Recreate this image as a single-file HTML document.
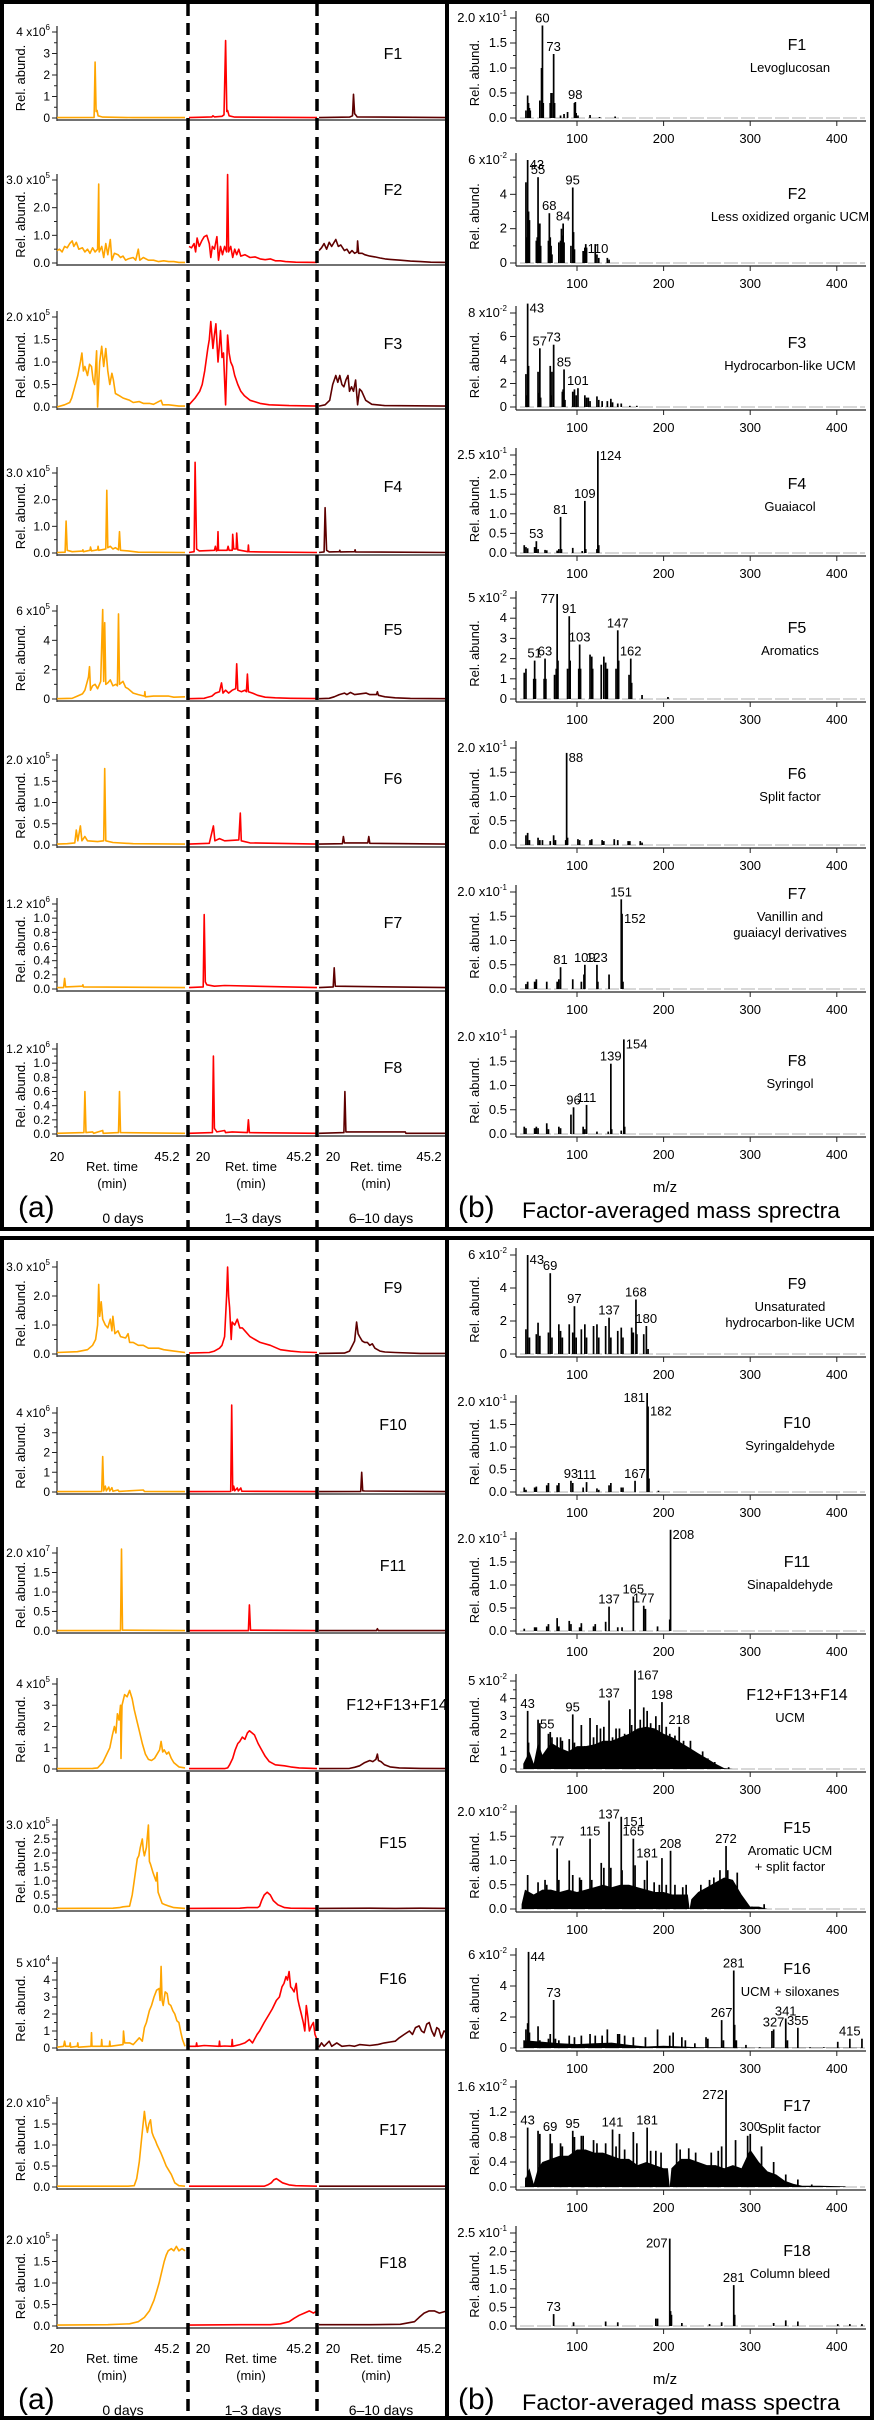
<!DOCTYPE html>
<html><head><meta charset="utf-8">
<style>
html,body{margin:0;padding:0;background:#fff;}
svg{display:block;font-family:"Liberation Sans",Arial,sans-serif;}
</style></head>
<body>
<svg id="fig" width="874" height="2421" viewBox="0 0 874 2421" xmlns="http://www.w3.org/2000/svg">
<rect x="0" y="0" width="874" height="2421" fill="#fff"/>
</svg>
<script>
// ---------- chromatogram data: [retention time (min), abundance in axis units] ----------
const c1a=[[20,0.02],[27.3,0.03],[27.5,2.6],[27.7,0.3],[27.9,0.35],[28.1,0.1],[29,0.04],[35,0.02],[45.2,0.02]];
const c1b=[[20,0.02],[24.5,0.05],[24.7,0.1],[25,0.05],[26.5,0.08],[26.9,0.15],[27.2,3.6],[27.45,0.3],[27.6,0.35],[27.9,0.1],[29,0.04],[45.2,0.02]];
const c1c=[[20,0.02],[26,0.04],[26.6,0.1],[26.8,1.1],[27,0.2],[27.2,0.15],[27.5,0.05],[45.2,0.02]];
const c2a=[[20,0.45],[20.5,0.5],[21,0.4],[21.5,0.6],[22,0.55],[22.5,0.7],[23,0.8],[23.3,0.6],[23.8,0.75],[24.3,0.5],[25,0.55],[25.5,0.4],[26,0.5],[26.5,0.35],[27,0.55],[27.5,0.4],[28,0.5],[28.2,2.85],[28.3,0.4],[28.8,0.6],[29.2,0.2],[29.6,0.7],[30,0.3],[30.5,0.85],[30.8,0.1],[31.3,0.35],[32,0.3],[32.5,0.2],[33,0.25],[33.5,0.1],[34,0.15],[35,0.2],[35.5,0.1],[36,0.5],[36.3,0.1],[37,0.2],[38,0.1],[39,0.1],[40,0.05],[41,0.08],[42,0.05],[43,0.05],[44,0.02],[45.2,0.02]];
const c2b=[[20,0.6],[20.5,0.55],[21,0.7],[21.3,0.4],[21.6,0.9],[22,0.6],[22.5,0.8],[23,0.95],[23.5,1.0],[24,0.7],[24.3,0.2],[24.6,0.6],[25,0.5],[25.5,0.95],[25.8,0.1],[26.2,0.6],[26.6,0.3],[27,0.6],[27.4,0.4],[27.6,3.2],[27.8,0.4],[28.2,0.6],[28.6,0.2],[29,0.5],[29.4,0.3],[29.8,0.5],[30.2,0.25],[31,0.3],[32,0.2],[33,0.22],[34,0.15],[35,0.12],[36,0.15],[37,0.08],[38,0.08],[39,0.05],[41,0.03],[45.2,0.02]];
const c2c=[[20,0.45],[20.5,0.55],[21,0.7],[21.5,0.5],[22,0.75],[22.5,0.6],[23.3,0.85],[23.8,0.6],[24.3,0.65],[25,0.45],[25.5,0.5],[26,0.35],[26.5,0.45],[27,0.35],[27.5,0.4],[27.6,0.8],[27.8,0.35],[28.5,0.35],[29,0.3],[30,0.25],[31,0.22],[32,0.18],[33,0.15],[34,0.13],[36,0.1],[38,0.07],[40,0.05],[42,0.03],[45.2,0.02]];
const c3a=[[20,0.0],[21.5,0.05],[22.5,0.1],[22.9,0.2],[23.5,0.45],[24.1,0.7],[24.6,1.0],[24.9,1.2],[25.2,0.8],[25.5,0.9],[26,0.7],[26.4,0.95],[26.8,0.9],[27.1,0.6],[27.4,0.5],[27.8,1.25],[28,0.0],[28.4,1.0],[28.8,1.35],[29.2,0.9],[29.6,1.3],[30,0.8],[30.4,0.5],[30.8,0.75],[31.1,0.6],[31.5,0.3],[32.3,0.25],[33,0.2],[34.3,0.15],[35,0.1],[36.2,0.12],[37,0.08],[38.2,0.08],[39,0.06],[40.5,0.15],[40.8,0.05],[42,0.05],[44,0.02],[45.2,0.02]];
const c3b=[[20,0.05],[21.2,0.2],[22.1,0.35],[22.6,0.5],[23.1,0.8],[23.7,1.3],[24.0,1.5],[24.3,1.9],[24.7,1.3],[25.0,1.6],[25.3,1.85],[25.7,1.0],[26.0,1.4],[26.2,1.7],[26.5,1.1],[26.8,1.2],[27.2,0.05],[27.6,1.6],[27.9,1.2],[28.2,1.0],[28.6,0.9],[29,0.7],[29.6,0.5],[30.2,0.35],[30.9,0.25],[32,0.15],[32.9,0.12],[34,0.08],[35.8,0.05],[39.7,0.03],[45.2,0.02]];
const c3c=[[20,0.02],[21.2,0.05],[22.1,0.15],[22.7,0.5],[23.3,0.7],[23.7,0.55],[24.1,0.7],[24.5,0.5],[24.9,0.45],[25.3,0.6],[25.7,0.7],[26.0,0.35],[26.4,0.45],[26.8,0.35],[27.2,0.6],[27.6,0.05],[28.0,0.4],[28.4,0.35],[29.2,0.15],[30.4,0.06],[32.9,0.03],[45.2,0.02]];
const c4a=[[20,0.02],[21.6,0.03],[21.8,1.2],[22.0,0.1],[23,0.05],[25,0.07],[25.1,0.12],[25.2,0.05],[26.5,0.1],[26.6,0.22],[26.8,0.08],[28,0.12],[28.1,0.25],[28.2,0.1],[29.6,0.15],[29.8,2.35],[30.0,0.2],[30.5,0.25],[31,0.15],[31.5,0.2],[32.1,0.12],[32.3,0.8],[32.5,0.1],[34,0.08],[36,0.03],[45.2,0.02]];
const c4b=[[20,0.02],[21.0,0.05],[21.2,3.4],[21.5,0.15],[22,0.08],[25,0.1],[25.2,0.25],[25.4,0.08],[25.6,0.1],[25.7,0.8],[25.8,0.1],[27.5,0.1],[27.7,0.25],[27.9,0.1],[28.5,0.1],[28.6,0.7],[28.8,0.15],[29.3,0.15],[29.4,0.75],[29.6,0.12],[31.6,0.05],[31.7,0.3],[31.8,0.05],[34,0.04],[45.2,0.02]];
const c4c=[[20,0.02],[21.0,0.04],[21.2,1.7],[21.5,0.1],[22,0.04],[24,0.05],[24.1,0.1],[24.2,0.04],[27,0.05],[27.1,0.12],[27.2,0.04],[45.2,0.02]];
const c5a=[[20,0.02],[23,0.05],[24,0.2],[25,0.35],[25.5,0.6],[26.2,1.5],[26.4,2.2],[26.6,0.6],[27,0.9],[27.5,1.0],[28,0.7],[28.6,1.2],[29.0,6.1],[29.2,1.2],[29.4,5.2],[29.6,1.0],[30,1.1],[30.5,1.3],[31,0.9],[31.6,1.0],[31.9,0.9],[32.1,5.8],[32.3,1.0],[33,1.2],[33.5,0.8],[34,0.7],[35,0.4],[36,0.3],[37.2,0.2],[37.3,0.5],[37.4,0.15],[39,0.2],[40.5,0.2],[42,0.2],[43,0.12],[45.2,0.15]];
const c5b=[[20,0.02],[23,0.05],[23.5,0.1],[24.5,0.2],[25.2,0.4],[26,0.5],[26.4,1.1],[26.7,0.4],[27.2,0.6],[27.8,0.4],[28.5,0.6],[29.2,0.7],[29.4,2.4],[29.6,0.6],[30.3,0.5],[31,0.6],[31.3,0.5],[31.5,1.7],[31.7,0.5],[32.5,0.4],[33.5,0.25],[35,0.12],[37,0.08],[40,0.05],[45.2,0.03]];
const c5c=[[20,0.02],[22,0.05],[23,0.15],[24,0.3],[25,0.4],[25.5,0.3],[26.2,0.45],[27,0.3],[28,0.35],[29.3,0.4],[30,0.3],[31.3,0.3],[31.5,0.5],[31.7,0.25],[33,0.15],[35,0.08],[38,0.04],[45.2,0.02]];
const c6a=[[20,0.02],[22,0.03],[23.5,0.05],[23.8,0.35],[24.1,0.1],[24.6,0.45],[24.9,0.1],[25.5,0.2],[26,0.1],[28,0.08],[29.2,0.1],[29.4,1.8],[29.6,0.1],[31,0.06],[35,0.03],[45.2,0.02]];
const c6b=[[20,0.02],[24,0.04],[24.5,0.3],[24.8,0.45],[25.1,0.1],[26,0.15],[27,0.1],[29.8,0.12],[30.1,0.75],[30.3,0.1],[32,0.05],[45.2,0.02]];
const c6c=[[20,0.02],[24.6,0.03],[24.8,0.2],[25,0.05],[29.6,0.05],[29.8,0.2],[30,0.04],[45.2,0.02]];
const c7a=[[20,0.02],[21.3,0.02],[21.5,0.15],[21.7,0.03],[25,0.04],[25.1,0.06],[25.2,0.03],[45.2,0.02]];
const c7b=[[20,0.02],[22.8,0.03],[23.0,1.05],[23.2,0.1],[23.5,0.06],[25,0.04],[27,0.05],[45.2,0.02]];
const c7c=[[20,0.02],[22.8,0.03],[23.0,0.3],[23.2,0.04],[45.2,0.02]];
const c8a=[[20,0.01],[25.3,0.02],[25.5,0.6],[25.7,0.02],[27,0.03],[27.2,0.01],[29,0.05],[29.1,0.01],[32.1,0.02],[32.3,0.6],[32.5,0.02],[45.2,0.01]];
const c8b=[[20,0.01],[24.6,0.02],[24.8,1.1],[25,0.08],[25.5,0.03],[27,0.05],[27.2,0.02],[28.5,0.03],[31.5,0.02],[31.7,0.2],[31.9,0.02],[45.2,0.01]];
const c8c=[[20,0.01],[24.9,0.02],[25.1,0.6],[25.3,0.03],[37,0.03],[37.1,0.01],[45.2,0.01]];
const c9a=[[20,0.05],[24,0.08],[26,0.15],[27,0.3],[27.6,0.5],[28.0,1.0],[28.2,2.4],[28.4,1.3],[28.7,1.8],[29,1.2],[29.5,1.0],[30,0.9],[30.5,1.2],[30.8,0.8],[31,1.3],[31.4,0.7],[32,0.8],[32.5,0.6],[33.5,0.55],[34,0.7],[34.3,0.4],[35,0.4],[36,0.3],[37,0.3],[38,0.2],[40,0.2],[41,0.15],[43,0.1],[45.2,0.05]];
const c9b=[[20,0.03],[24,0.05],[25,0.1],[26,0.2],[26.5,0.3],[27.0,0.6],[27.4,2.0],[27.6,3.0],[27.8,2.0],[28.0,1.6],[28.3,0.5],[28.5,1.1],[29,1.0],[29.5,1.2],[30,0.9],[30.5,0.9],[31,0.8],[32,0.6],[33,0.5],[34,0.4],[36,0.3],[38,0.15],[40,0.1],[42,0.07],[45.2,0.05]];
const c9c=[[20,0.02],[25,0.03],[26,0.1],[26.6,0.3],[27.0,0.45],[27.4,1.1],[27.7,0.7],[28,0.6],[28.5,0.45],[29,0.4],[29.5,0.4],[30,0.3],[30.5,0.35],[31,0.2],[32,0.1],[33,0.07],[35,0.05],[40,0.02],[45.2,0.02]];
const c10a=[[20,0.02],[28.8,0.03],[29.0,1.8],[29.2,0.05],[29.5,0.3],[29.7,0.05],[30.2,0.25],[30.4,0.05],[30.8,0.22],[31,0.04],[32,0.1],[32.2,0.03],[37,0.1],[37.2,0.03],[45.2,0.02]];
const c10b=[[20,0.02],[28.2,0.03],[28.4,4.4],[28.6,0.08],[28.8,0.3],[29,0.06],[29.5,0.2],[29.7,0.05],[30.2,0.2],[30.4,0.04],[45.2,0.02]];
const c10c=[[20,0.02],[28.2,0.03],[28.4,1.0],[28.6,0.06],[29,0.05],[45.2,0.02]];
const c11a=[[20,0.01],[32.5,0.01],[32.7,2.1],[32.9,0.02],[45.2,0.01]];
const c11b=[[20,0.01],[31.7,0.01],[31.9,0.67],[32.1,0.02],[45.2,0.01]];
const c11c=[[20,0.01],[31.3,0.01],[31.5,0.06],[31.7,0.01],[45.2,0.01]];
const c12a=[[20,0.02],[27,0.03],[28.0,0.05],[29,0.3],[30.4,1.0],[30.9,1.6],[31.3,2.0],[31.6,1.7],[31.9,2.6],[32.2,2.3],[32.5,3.0],[32.6,0.5],[32.8,3.0],[33.3,3.5],[33.8,3.4],[34.3,3.7],[34.8,3.3],[35.2,2.8],[35.7,2.3],[36.2,1.8],[36.8,1.2],[37.4,0.7],[38,0.45],[38.6,0.4],[39.2,0.5],[39.7,0.7],[40.2,0.9],[40.5,1.3],[40.8,0.8],[41.1,0.9],[41.6,0.7],[42,0.8],[42.5,0.5],[43,0.3],[44,0.1],[45.2,0.05]];
const c12b=[[20,0.02],[27,0.02],[27.6,0.05],[28.0,0.2],[28.6,0.5],[29.1,0.9],[29.6,1.2],[30,1.3],[30.5,1.5],[31,1.4],[31.5,1.7],[31.9,1.8],[32.4,1.7],[32.9,1.6],[33.6,1.2],[34.3,0.9],[35,0.6],[35.8,0.35],[37,0.2],[38.8,0.15],[40,0.1],[41.7,0.05],[45.2,0.02]];
const c12c=[[20,0.02],[26,0.03],[27,0.08],[28,0.15],[29,0.3],[30,0.4],[30.6,0.35],[31.2,0.45],[31.5,0.7],[31.7,0.4],[32.2,0.35],[32.9,0.2],[34,0.1],[35.8,0.05],[40,0.03],[45.2,0.02]];
const c15a=[[20,0.02],[31,0.03],[32.3,0.05],[33,0.08],[34.3,0.1],[34.8,0.5],[35.2,1.0],[35.8,1.8],[36.1,1.9],[36.4,2.2],[36.8,2.5],[37.0,2.1],[37.2,1.9],[37.6,2.2],[38.0,3.0],[38.2,1.7],[38.4,1.6],[38.9,1.3],[39.3,1.1],[39.5,1.0],[39.7,1.3],[39.9,0.6],[40.1,0.5],[40.7,0.2],[41.3,0.15],[42.1,0.1],[43,0.05],[45.2,0.02]];
const c15b=[[20,0.02],[30,0.03],[31.5,0.05],[33.5,0.05],[33.9,0.1],[34.3,0.3],[34.8,0.5],[35.4,0.6],[36,0.5],[36.6,0.3],[37.5,0.15],[38.8,0.05],[40,0.03],[45.2,0.02]];
const c15c=[[20,0.02],[30,0.03],[35,0.02],[40,0.03],[45.2,0.02]];
const c16a=[[20,0.05],[21.3,0.1],[21.5,0.4],[21.7,0.1],[22.5,0.1],[22.6,0.3],[22.7,0.05],[24,0.1],[24.1,0.3],[24.2,0.05],[26.7,0.1],[26.8,0.9],[26.9,0.1],[28.7,0.1],[28.8,0.5],[28.9,0.1],[30.3,0.1],[30.4,0.4],[30.5,0.1],[33,0.2],[33.1,1.0],[33.3,0.3],[34.3,0.3],[35,0.2],[36.2,0.6],[36.8,0.4],[37.2,1.2],[37.6,1.5],[38.2,2.2],[38.6,2.5],[39.1,3.0],[39.6,3.4],[40.1,3.5],[40.3,2.8],[40.5,4.8],[40.7,2.8],[40.9,2.5],[41.3,3.3],[41.7,3.2],[42.0,2.6],[42.4,2.5],[42.8,2.2],[43.2,2.0],[43.6,1.6],[44,1.5],[44.4,0.9],[44.7,0.5],[45.2,0.1]];
const c16b=[[20,0.1],[21.4,0.1],[21.5,0.3],[21.6,0.1],[23,0.15],[25.9,0.1],[26,0.4],[26.1,0.1],[27,0.12],[28.4,0.1],[28.5,0.5],[28.6,0.1],[30,0.2],[31,0.3],[31.9,0.5],[32.5,0.3],[33.4,0.8],[33.9,1.0],[34.8,1.5],[35.8,2.0],[36.4,2.3],[37.2,2.8],[37.8,3.0],[38.3,3.6],[38.7,3.8],[39.1,4.2],[39.4,4.0],[39.7,4.5],[40,3.6],[40.3,3.5],[40.7,3.3],[41.1,3.8],[41.4,2.9],[41.7,2.5],[42.1,2.0],[42.5,1.5],[42.8,1.0],[43.1,2.5],[43.4,1.8],[43.7,1.0],[44.1,1.3],[44.5,1.5],[44.8,0.8],[45.2,0.5]];
const c16c=[[20,0.05],[20.5,0.3],[21,0.1],[22,0.4],[22.5,0.1],[23.5,0.3],[24.5,0.1],[26,0.15],[27,0.1],[28,0.2],[30,0.15],[31.5,0.2],[32.9,0.3],[34,0.35],[35,0.4],[35.8,0.6],[36.8,0.8],[37.8,1.0],[38.4,0.8],[39.0,1.2],[39.7,1.3],[40.2,1.0],[40.7,0.9],[41.2,1.4],[41.7,1.5],[42.2,1.0],[42.7,0.7],[43.2,1.2],[43.6,1.1],[44.1,0.6],[44.6,1.0],[45.2,0.9]];
const c17a=[[20,0.02],[34,0.02],[35.2,0.03],[35.7,0.2],[36.2,0.6],[36.7,1.2],[37.2,1.8],[37.5,1.5],[37.8,1.3],[38.1,1.5],[38.4,1.6],[38.7,1.3],[39,1.2],[39.4,1.1],[39.7,1.0],[40.1,0.9],[40.5,0.8],[41,0.65],[41.5,0.5],[42,0.4],[42.5,0.3],[43.2,0.1],[44,0.03],[45.2,0.02]];
const c17b=[[20,0.02],[34,0.02],[34.8,0.02],[35.5,0.05],[36.2,0.1],[36.7,0.17],[37.2,0.2],[37.8,0.15],[38.4,0.1],[39.7,0.05],[41,0.03],[45.2,0.02]];
const c17c=[[20,0.02],[30,0.02],[40,0.02],[45.2,0.02]];
const c18a=[[20,0.02],[30,0.03],[34.3,0.05],[36,0.1],[37.2,0.2],[38.2,0.35],[39.1,0.6],[39.6,0.8],[40.1,1.0],[40.6,1.25],[41.1,1.5],[41.5,1.65],[41.9,1.75],[42.5,1.8],[43.0,1.75],[43.5,1.85],[44,1.75],[44.6,1.8],[45.2,1.75]];
const c18b=[[20,0.02],[30,0.03],[36,0.03],[38,0.05],[39.7,0.1],[40.7,0.18],[41.7,0.25],[42.7,0.3],[43.7,0.35],[44.5,0.3],[45.2,0.35]];
const c18c=[[20,0.03],[30,0.03],[36,0.04],[38.8,0.1],[39.7,0.2],[40.7,0.3],[41.7,0.35],[42.7,0.35],[43.7,0.3],[45.2,0.35]];

// ---------- mass spectra data: [m/z, abundance in axis units] ----------
const s1=[[41,0.15],[43,0.45],[44,0.3],[45,0.2],[46,0.15],[57,0.35],[59,1.0],[60,1.85],[61,0.3],[69,0.3],[70,0.5],[71,0.5],[73,1.28],[74,0.3],[81,0.05],[85,0.08],[89,0.12],[97,0.3],[98,0.32],[99,0.1],[101,0.05],[115,0.06],[126,0.02],[144,0.03]];
const s2=[[41,4.7],[42,1.5],[43,6.0],[44,3.0],[45,2.5],[53,1.3],[54,1.5],[55,5.0],[56,2.3],[57,2.3],[58,1.0],[67,1.3],[68,2.9],[69,1.5],[70,1.0],[71,0.5],[79,1.2],[81,1.3],[82,2.0],[83,1.6],[84,2.3],[85,1.2],[93,1.0],[95,4.4],[96,1.8],[97,0.8],[107,0.7],[109,0.9],[110,1.1],[111,0.9],[121,1.1],[123,0.5],[125,0.3],[135,0.3],[137,0.2]];
const s3=[[41,2.8],[42,1.0],[43,8.8],[44,3.5],[55,3.0],[56,1.2],[57,5.0],[58,0.8],[69,3.5],[70,1.0],[71,3.0],[73,5.3],[83,1.3],[84,1.5],[85,3.2],[86,0.6],[95,1.3],[97,1.5],[99,1.0],[101,1.6],[109,1.0],[111,0.8],[113,0.8],[115,0.5],[123,0.9],[125,0.6],[129,0.5],[135,0.5],[139,0.7],[141,0.4],[147,0.3],[151,0.3],[161,0.1],[169,0.1]];
const s4=[[39,0.2],[41,0.15],[43,0.12],[51,0.15],[53,0.3],[55,0.1],[63,0.08],[65,0.07],[77,0.06],[79,0.1],[81,0.92],[82,0.1],[95,0.13],[106,0.05],[109,1.33],[110,0.1],[123,0.1],[124,2.6],[125,0.2]];
const s5=[[39,1.3],[41,1.5],[50,1.0],[51,1.9],[52,1.0],[62,1.0],[63,2.0],[64,1.0],[74,1.2],[76,1.5],[77,5.2],[78,1.9],[89,1.5],[91,4.1],[92,1.9],[102,1.5],[103,2.7],[104,1.5],[115,2.2],[117,2.1],[118,1.5],[128,1.7],[131,2.1],[133,1.8],[135,1.5],[145,1.5],[147,3.4],[148,1.9],[160,1.2],[162,2.0],[163,0.8],[175,0.2],[205,0.1]];
const s6=[[41,0.2],[43,0.25],[45,0.1],[55,0.15],[57,0.1],[60,0.1],[69,0.08],[73,0.2],[75,0.1],[87,0.1],[88,1.9],[89,0.15],[101,0.12],[103,0.1],[115,0.1],[117,0.12],[129,0.1],[131,0.08],[143,0.12],[147,0.1],[159,0.08],[161,0.08],[173,0.08],[175,0.05]];
const s7=[[41,0.1],[43,0.15],[51,0.15],[53,0.2],[65,0.15],[77,0.15],[79,0.2],[81,0.45],[95,0.2],[105,0.15],[108,0.3],[109,0.5],[123,0.5],[124,0.15],[137,0.3],[151,1.85],[152,1.55],[153,0.15]];
const s8=[[39,0.15],[41,0.12],[51,0.12],[53,0.15],[55,0.12],[65,0.22],[67,0.1],[79,0.15],[81,0.12],[93,0.4],[96,0.55],[107,0.15],[109,0.1],[111,0.6],[123,0.05],[136,0.05],[139,1.45],[140,0.1],[151,0.07],[154,1.95],[155,0.15]];
const s9=[[41,1.5],[43,6.0],[45,1.0],[53,1.2],[55,1.9],[57,1.1],[67,1.3],[69,4.9],[71,1.0],[79,1.8],[81,1.4],[83,1.0],[91,1.8],[95,1.3],[97,2.9],[99,1.0],[105,1.5],[109,1.8],[111,1.0],[119,1.7],[123,1.8],[125,1.0],[133,1.7],[137,2.2],[139,1.0],[147,1.4],[151,1.6],[153,1.0],[163,1.6],[165,1.3],[168,3.3],[169,1.2],[177,1.2],[180,1.7],[182,0.3]];
const s10=[[39,0.1],[41,0.05],[51,0.1],[53,0.12],[65,0.15],[67,0.2],[77,0.15],[79,0.2],[93,0.25],[95,0.2],[107,0.1],[111,0.22],[123,0.08],[125,0.05],[137,0.15],[139,0.2],[151,0.1],[153,0.1],[167,0.25],[181,2.2],[182,1.9],[183,0.3],[194,0.03]];
const s11=[[39,0.05],[51,0.08],[53,0.08],[65,0.1],[67,0.15],[77,0.28],[79,0.1],[91,0.22],[93,0.15],[103,0.08],[105,0.17],[119,0.1],[121,0.15],[133,0.2],[137,0.53],[147,0.08],[152,0.08],[165,0.75],[177,0.55],[179,0.48],[193,0.1],[207,0.25],[208,2.2]];
const s12=[[43,3.3],[44,1.5],[55,2.8],[57,2.6],[67,2.0],[69,2.1],[71,1.8],[77,1.8],[81,1.8],[83,1.6],[91,1.7],[95,3.1],[97,1.5],[105,2.5],[109,1.3],[115,2.9],[119,1.8],[123,2.5],[127,2.3],[131,2.4],[137,3.9],[141,1.8],[145,2.3],[149,2.3],[155,2.0],[161,3.4],[163,2.5],[167,5.6],[173,2.8],[177,3.5],[181,3.3],[185,2.6],[191,3.0],[195,2.5],[198,3.8],[203,2.4],[207,2.0],[213,1.9],[218,2.4],[223,1.6],[231,1.6],[235,1.0],[245,1.0],[251,0.6],[259,0.4],[263,0.2],[275,0.1]];
const e12=[[38,0.3],[45,1.0],[50,0.3],[55,1.5],[60,0.8],[70,1.5],[80,1.2],[90,1.0],[100,1.3],[110,1.3],[120,1.4],[130,1.6],[140,1.6],[150,1.8],[160,2.0],[170,2.3],[180,2.4],[190,2.3],[200,2.0],[210,1.8],[220,1.5],[230,1.2],[240,0.9],[250,0.6],[260,0.3],[270,0.05],[280,0]];
const s15=[[43,0.7],[55,0.55],[63,0.6],[65,0.5],[77,1.25],[79,0.6],[91,1.0],[95,0.7],[103,0.65],[105,0.6],[115,1.45],[117,0.6],[128,0.95],[131,0.85],[137,1.8],[139,0.85],[151,1.9],[152,0.8],[165,1.45],[167,0.9],[178,0.6],[181,1.0],[189,0.55],[195,0.5],[198,1.05],[203,0.5],[208,1.2],[213,0.5],[222,0.45],[226,0.5],[243,0.5],[253,0.6],[258,0.65],[265,0.8],[272,1.3],[274,0.8],[285,0.75],[302,0.05],[316,0.1]];
const e15=[[36,0.1],[40,0.4],[50,0.3],[60,0.4],[70,0.4],[80,0.35],[90,0.4],[100,0.35],[110,0.4],[120,0.45],[130,0.5],[140,0.45],[150,0.5],[160,0.5],[170,0.45],[180,0.4],[190,0.35],[200,0.35],[210,0.3],[220,0.3],[228,0.3],[230,0],[232,0.2],[240,0.35],[250,0.45],[260,0.55],[270,0.65],[280,0.6],[290,0.3],[300,0.05],[310,0.05],[320,0]];
const s16=[[41,1.2],[43,1.6],[44,6.2],[45,1.0],[55,1.4],[57,0.5],[67,0.6],[69,0.9],[73,3.1],[75,0.6],[79,0.5],[91,0.8],[97,0.7],[105,0.8],[115,0.9],[121,0.8],[129,0.8],[135,1.2],[147,0.9],[149,0.9],[155,0.8],[165,0.7],[179,0.7],[193,1.2],[207,0.8],[211,1.0],[221,0.7],[225,0.5],[236,0.3],[249,0.7],[251,0.6],[267,1.8],[269,0.5],[281,5.0],[282,1.5],[284,0.5],[295,0.2],[311,0.05],[325,1.1],[327,1.2],[341,1.9],[343,0.5],[355,1.3],[369,0.05],[385,0.05],[401,0.4],[415,0.6],[429,0.6]];
const e16=[[38,0.5],[60,0.4],[80,0.3],[100,0.25],[120,0.3],[140,0.35],[160,0.2],[180,0.1],[200,0.15],[220,0.1],[240,0.05],[260,0.05],[300,0.02],[430,0.02]];
const s17=[[41,0.15],[43,0.95],[55,0.9],[57,0.85],[69,0.85],[71,0.7],[81,0.7],[83,0.65],[95,0.9],[97,0.8],[105,0.82],[107,0.82],[119,0.75],[123,0.7],[133,0.7],[141,0.92],[145,0.65],[149,0.85],[155,0.6],[165,0.88],[169,0.7],[181,0.95],[185,0.58],[191,0.58],[197,0.55],[215,0.7],[219,0.6],[229,0.62],[237,0.55],[255,0.55],[263,0.58],[267,0.65],[272,1.55],[283,0.75],[297,0.82],[300,0.85],[313,0.65],[327,0.4],[341,0.2],[355,0.12],[371,0.04]];
const e17=[[40,0.1],[45,0.3],[50,0.05],[55,0.3],[60,0.4],[70,0.45],[80,0.5],[90,0.5],[100,0.6],[110,0.6],[120,0.55],[130,0.55],[140,0.5],[150,0.45],[160,0.45],[170,0.35],[180,0.4],[190,0.35],[200,0.3],[205,0.3],[207,0],[209,0.3],[220,0.45],[230,0.45],[240,0.4],[250,0.35],[260,0.35],[270,0.3],[280,0.35],[290,0.3],[300,0.6],[310,0.4],[320,0.25],[330,0.2],[340,0.1],[350,0.05],[360,0.02],[380,0.02],[410,0.01]];
const s18=[[73,0.32],[96,0.1],[133,0.12],[147,0.1],[191,0.2],[193,0.2],[207,2.35],[208,0.4],[209,0.3],[221,0.08],[253,0.05],[267,0.1],[281,1.1],[282,0.3],[327,0.08],[341,0.15],[355,0.12],[401,0.05],[415,0.05],[429,0.05]];

// peak labels: [m/z, placement] (m=above centred, r=right of bar, l=left of bar)
const L1=[[60,'m'],[73,'m'],[98,'m']];
const L2=[[43,'r'],[55,'m'],[68,'m'],[84,'m'],[95,'m'],[110,'r']];
const L3=[[43,'r'],[57,'m'],[73,'m'],[85,'m'],[101,'m']];
const L4=[[53,'m'],[81,'m'],[109,'m'],[124,'r']];
const L5=[[51,'m'],[63,'m'],[77,'l'],[91,'m'],[103,'m'],[147,'m'],[162,'m']];
const L6=[[88,'r']];
const L7=[[81,'m'],[109,'m'],[123,'m'],[151,'m'],[152,'r']];
const L8=[[96,'m'],[111,'m'],[139,'m'],[154,'r']];
const L9=[[43,'r'],[69,'m'],[97,'m'],[137,'m'],[168,'m'],[180,'m']];
const L10=[[93,'m'],[111,'m'],[167,'m'],[181,'l'],[182,'r']];
const L11=[[137,'m'],[165,'m'],[177,'m'],[208,'r']];
const L12=[[43,'m'],[55,'r'],[95,'m'],[137,'m'],[167,'r'],[198,'m'],[218,'m']];
const L15=[[77,'m'],[115,'m'],[137,'m'],[151,'r'],[165,'m'],[181,'m'],[208,'m'],[272,'m']];
const L16=[[44,'r'],[73,'m'],[267,'m'],[281,'m'],[327,'m'],[341,'m'],[355,'m'],[415,'m']];
const L17=[[43,'m'],[69,'m'],[95,'m'],[141,'m'],[181,'m'],[272,'l'],[300,'m']];
const L18=[[73,'m'],[207,'l'],[281,'m']];

// tick label arrays
const spectraTicksX=[100,200,300,400];
const retTickLabels=['20','45.2'];
const dayLabels=['0  days','1\u20133 days','6\u201310 days'];

// ---------- layout (not data) ----------
const NS='http://www.w3.org/2000/svg';
const svg=document.getElementById('fig');
function mk(tag,attrs,parent){const e=document.createElementNS(NS,tag);for(const k in attrs)e.setAttribute(k,attrs[k]);(parent||svg).appendChild(e);return e;}
const segX0=[57,189,319], segW=128;
const segColors=['#FFA500','#FF0000','#5E0000'];
function tx(seg,t){return segX0[seg]+(t-20)/25.2*segW;}
function mzx(m){return 577+(m-100)*0.866;}

const factors=[
 {id:'F1',z:118,cH:86,cMax:4,cStep:1,cMinor:0.5,cDec:0,cExp:'6',c:[c1a,c1b,c1c],sH:100,sMax:2.0,sStep:0.5,sMinor:0.25,sDec:1,sExp:'-1',s:s1,lab:L1,sub:['Levoglucosan'],tOff:-74,lOff:-65},
 {id:'F2',z:263,cH:83,cMax:3,cStep:1,cMinor:0.5,cDec:1,cExp:'5',c:[c2a,c2b,c2c],sH:103,sMax:6,sStep:2,sMinor:1,sDec:0,sExp:'-2',s:s2,lab:L2,sub:['Less oxidized organic UCM'],tOff:-70,lOff:-74},
 {id:'F3',z:407,cH:90,cMax:2,cStep:0.5,cMinor:0.25,cDec:1,cExp:'5',c:[c3a,c3b,c3c],sH:94,sMax:8,sStep:2,sMinor:1,sDec:0,sExp:'-2',s:s3,lab:L3,sub:['Hydrocarbon-like UCM'],tOff:-65,lOff:-64},
 {id:'F4',z:553,cH:80,cMax:3,cStep:1,cMinor:0.5,cDec:1,cExp:'5',c:[c4a,c4b,c4c],sH:98,sMax:2.5,sStep:0.5,sMinor:0.25,sDec:1,sExp:'-1',s:s4,lab:L4,sub:['Guaiacol'],tOff:-70,lOff:-67},
 {id:'F5',z:699,cH:88,cMax:6,cStep:2,cMinor:1,cDec:0,cExp:'5',c:[c5a,c5b,c5c],sH:101,sMax:5,sStep:1,sMinor:0.5,sDec:0,sExp:'-2',s:s5,lab:L5,sub:['Aromatics'],tOff:-72,lOff:-70},
 {id:'F6',z:845,cH:85,cMax:2,cStep:0.5,cMinor:0.25,cDec:1,cExp:'5',c:[c6a,c6b,c6c],sH:97,sMax:2.0,sStep:0.5,sMinor:0.25,sDec:1,sExp:'-1',s:s6,lab:L6,sub:['Split factor'],tOff:-72,lOff:-67},
 {id:'F7',z:989,cH:85,cMax:1.2,cStep:0.2,cMinor:0.1,cDec:1,cExp:'6',c:[c7a,c7b,c7c],sH:97,sMax:2.0,sStep:0.5,sMinor:0.25,sDec:1,sExp:'-1',s:s7,lab:L7,sub:['Vanillin and','guaiacyl derivatives'],tOff:-96,lOff:-67},
 {id:'F8',z:1134,cH:85,cMax:1.2,cStep:0.2,cMinor:0.1,cDec:1,cExp:'6',c:[c8a,c8b,c8c],sH:97,sMax:2.0,sStep:0.5,sMinor:0.25,sDec:1,sExp:'-1',s:s8,lab:L8,sub:['Syringol'],tOff:-74,lOff:-67},
 {id:'F9',z:1354,cH:87,cMax:3,cStep:1,cMinor:0.5,cDec:1,cExp:'5',c:[c9a,c9b,c9c],sH:99,sMax:6,sStep:2,sMinor:1,sDec:0,sExp:'-2',s:s9,lab:L9,sub:['Unsaturated','hydrocarbon-like UCM'],tOff:-71,lOff:-67},
 {id:'F10',z:1492,cH:79,cMax:4,cStep:1,cMinor:0.5,cDec:0,cExp:'6',c:[c10a,c10b,c10c],sH:90,sMax:2.0,sStep:0.5,sMinor:0.25,sDec:1,sExp:'-1',s:s10,lab:L10,sub:['Syringaldehyde'],tOff:-70,lOff:-68},
 {id:'F11',z:1631,cH:78,cMax:2,cStep:0.5,cMinor:0.25,cDec:1,cExp:'7',c:[c11a,c11b,c11c],sH:92,sMax:2.0,sStep:0.5,sMinor:0.25,sDec:1,sExp:'-1',s:s11,lab:L11,sub:['Sinapaldehyde'],tOff:-70,lOff:-66},
 {id:'F12+F13+F14',z:1769,cH:85,cMax:4,cStep:1,cMinor:0.5,cDec:0,cExp:'5',c:[c12a,c12b,c12c],sH:88,sMax:5,sStep:1,sMinor:0.5,sDec:0,sExp:'-2',s:s12,e:e12,lab:L12,sub:['UCM'],tOff:-75,lOff:-65},
 {id:'F15',z:1909,cH:84,cMax:3,cStep:0.5,cMinor:0.25,cDec:1,cExp:'5',c:[c15a,c15b,c15c],sH:97,sMax:2.0,sStep:0.5,sMinor:0.25,sDec:1,sExp:'-2',s:s15,e:e15,lab:L15,sub:['Aromatic UCM','+ split factor'],tOff:-82,lOff:-67},
 {id:'F16',z:2048,cH:85,cMax:5,cStep:1,cMinor:0.5,cDec:0,cExp:'4',c:[c16a,c16b,c16c],sH:93,sMax:6,sStep:2,sMinor:1,sDec:0,sExp:'-2',s:s16,e:e16,lab:L16,sub:['UCM + siloxanes'],tOff:-80,lOff:-70},
 {id:'F17',z:2187,cH:84,cMax:2,cStep:0.5,cMinor:0.25,cDec:1,cExp:'5',c:[c17a,c17b,c17c],sH:100,sMax:1.6,sStep:0.4,sMinor:0.2,sDec:1,sExp:'-2',s:s17,e:e17,lab:L17,sub:['Split factor'],tOff:-82,lOff:-58},
 {id:'F18',z:2326,cH:86,cMax:2,cStep:0.5,cMinor:0.25,cDec:1,cExp:'5',c:[c18a,c18b,c18c],sH:93,sMax:2.5,sStep:0.5,sMinor:0.25,sDec:1,sExp:'-1',s:s18,lab:L18,sub:['Column bleed'],tOff:-76,lOff:-64}
];

function yTickLabel(x,y,val,dec,exp,isTop,fs){
  const t=mk('text',{x:x,y:y+4,'text-anchor':'end','font-size':fs,fill:'#000'});
  if(isTop){
    t.appendChild(document.createTextNode(val.toFixed(dec)+' x10'));
    const sup=mk('tspan',{dy:-6,'font-size':8},t);sup.textContent=exp;
    const pad=mk('tspan',{dy:6,'font-size':2},t);pad.textContent=' ';
  } else t.textContent=val.toFixed(dec);
  return t;
}

factors.forEach((f,fi)=>{
  const key=f.id.toLowerCase().replace(/\+/g,'-');
  const g=mk('g',{});
  
  
  const cy=v=>f.z-v/f.cMax*f.cH;
  const ya=mk('line',{x1:57,y1:f.z-f.cH-6,x2:57,y2:f.z+3,stroke:'#222','stroke-width':1.2},g);
  
  
  for(let v=0;v<=f.cMax+1e-9;v+=f.cMinor){
    const major=Math.abs(v/f.cStep-Math.round(v/f.cStep))<1e-6;
    mk('line',{x1:major?52:54,y1:cy(v),x2:57,y2:cy(v),stroke:'#222','stroke-width':1},g);
    if(major){
      const lt=yTickLabel(50,cy(v),v,f.cDec,f.cExp,Math.abs(v-f.cMax)<1e-6,12);
      g.appendChild(lt);
      
      
    }
  }
  const yt=mk('text',{x:0,y:0,transform:`translate(25,${f.z-f.cH/2+3}) rotate(-90)`,'text-anchor':'middle','font-size':13},g);
  yt.textContent='Rel. abund.';
  
  
  const xa=mk('line',{x1:57,y1:f.z+2,x2:446,y2:f.z+2,stroke:'#444','stroke-width':1.5},g);
  
  
  f.c.forEach((ser,si)=>{
    const pts=ser.map(p=>tx(si,p[0]).toFixed(1)+','+cy(p[1]).toFixed(1)).join(' ');
    const pl=mk('polyline',{points:pts,fill:'none',stroke:segColors[si],'stroke-width':1.6,'stroke-linejoin':'round'},g);
    
    
  });
  const lt=mk('text',{x:f.id.length>4?397:393,y:f.z+f.lOff+6,'text-anchor':'middle','font-size':16},g);
  lt.textContent=f.id;
  
  

  const h=mk('g',{});
  
  
  const sy=v=>f.z-v/f.sMax*f.sH;
  const sya=mk('line',{x1:516,y1:f.z-f.sH-7,x2:516,y2:f.z+3,stroke:'#222','stroke-width':1.2},h);
  
  
  for(let v=0;v<=f.sMax+1e-9;v+=f.sMinor){
    const major=Math.abs(v/f.sStep-Math.round(v/f.sStep))<1e-6;
    mk('line',{x1:major?510:513,y1:sy(v),x2:516,y2:sy(v),stroke:'#222','stroke-width':1},h);
    if(major){
      const stl=yTickLabel(507,sy(v),v,f.sDec,f.sExp,Math.abs(v-f.sMax)<1e-6,13);
      h.appendChild(stl);
      
      
    }
  }
  const syt=mk('text',{x:0,y:0,transform:`translate(479,${f.z-f.sH/2+5}) rotate(-90)`,'text-anchor':'middle','font-size':13},h);
  syt.textContent='Rel. abund.';
  
  
  const base=mk('line',{x1:520,y1:f.z,x2:865,y2:f.z,stroke:'#ccc','stroke-width':1.5,'stroke-dasharray':'14,3'},h);
  
  
  if(f.e){
    const pts=[mzx(f.e[0][0]).toFixed(1)+','+f.z].concat(f.e.map(p=>mzx(p[0]).toFixed(1)+','+sy(p[1]).toFixed(1))).concat([mzx(f.e[f.e.length-1][0]).toFixed(1)+','+f.z]).join(' ');
    const env=mk('polygon',{points:pts,fill:'#000'},h);
    
    
  }
  f.s.forEach(p=>{
    const top=sy(p[1]);
    const b=mk('rect',{x:(mzx(p[0])-0.8).toFixed(1),y:top.toFixed(1),width:1.7,height:(f.z-top).toFixed(1),fill:'#000'},h);
    
    
  });
  const sxa=mk('line',{x1:516,y1:f.z+3,x2:866,y2:f.z+3,stroke:'#222','stroke-width':1.3},h);
  
  
  spectraTicksX.forEach(m=>{
    mk('line',{x1:mzx(m),y1:f.z+3,x2:mzx(m),y2:f.z+8,stroke:'#222','stroke-width':1},h);
    const xl=mk('text',{x:mzx(m),y:f.z+25,'text-anchor':'middle','font-size':13},h);
    xl.textContent=String(m);
    
    
  });
  f.lab.forEach(l=>{
    const p=f.s.find(q=>q[0]===l[0]);
    const top=sy(p[1]);
    let at;
    if(l[1]==='r') at={x:mzx(l[0])+2,y:top+9,'text-anchor':'start'};
    else if(l[1]==='l') at={x:mzx(l[0])-2,y:top+9,'text-anchor':'end'};
    else at={x:mzx(l[0]),y:top-3,'text-anchor':'middle'};
    at['font-size']=13;
    const pt=mk('text',at,h);
    pt.textContent=String(l[0]);
    
    
  });
  const st=mk('text',{x:797,y:f.z+f.tOff+6,'text-anchor':'middle','font-size':16},h);
  st.textContent=f.id;
  
  
  f.sub.forEach((s,i)=>{
    const sb=mk('text',{x:790,y:f.z+f.tOff+28+i*16,'text-anchor':'middle','font-size':13},h);
    sb.textContent=s;
    
    
  });
});

function captions(zero,title,yOff){
  const g=mk('g',{});
  
  
  for(let s=0;s<3;s++){
    const a=mk('text',{x:segX0[s]+(s===0?0:14),y:zero+27,'text-anchor':'middle','font-size':13},g);
    a.textContent=retTickLabels[0];
    
    
    const b=mk('text',{x:segX0[s]+110,y:zero+27,'text-anchor':'middle','font-size':13},g);
    b.textContent=retTickLabels[1];
    
    
    const cx=[112,251,376][s];
    const r=mk('text',{x:cx,y:zero+37+yOff,'text-anchor':'middle','font-size':13},g);
    r.textContent='Ret. time';
    
    
    const m=mk('text',{x:cx,y:zero+54+yOff,'text-anchor':'middle','font-size':13},g);
    m.textContent='(min)';
    
    
    const d=mk('text',{x:[123,253,381][s],y:zero+89-yOff,'text-anchor':'middle','font-size':14},g);
    d.textContent=dayLabels[s];
    
    
  }
  const pa=mk('text',{x:18,y:zero+83,'font-size':30},g);
  pa.textContent='(a)';
  
  
  const mz=mk('text',{x:665,y:zero+58,'text-anchor':'middle','font-size':15},g);
  mz.textContent='m/z';
  
  
  const pb=mk('text',{x:458,y:zero+83,'font-size':30},g);
  pb.textContent='(b)';
  
  
  const ft=mk('text',{x:522,y:zero+84,'font-size':22,textLength:318,lengthAdjust:'spacingAndGlyphs'},g);
  ft.textContent=title;
  
  
}
captions(1134,'Factor-averaged mass sprectra',0);
captions(2326,'Factor-averaged mass spectra',0);

const frames=[[2,2,870,1227],[2,1238,870,1180]];
frames.forEach((r,i)=>{
  const fr=mk('rect',{x:r[0],y:r[1],width:r[2],height:r[3],fill:'none',stroke:'#000','stroke-width':4});
  
  
  const dv=mk('line',{x1:447,y1:r[1],x2:447,y2:r[1]+r[3],stroke:'#000','stroke-width':4});
  
  
  [188,317].forEach(x=>{
    const ds=mk('line',{x1:x,y1:r[1]+2,x2:x,y2:r[1]+r[3],stroke:'#000','stroke-width':3.5,'stroke-dasharray':'12,7'});
    
    
  });
});
</script>
</body></html>
